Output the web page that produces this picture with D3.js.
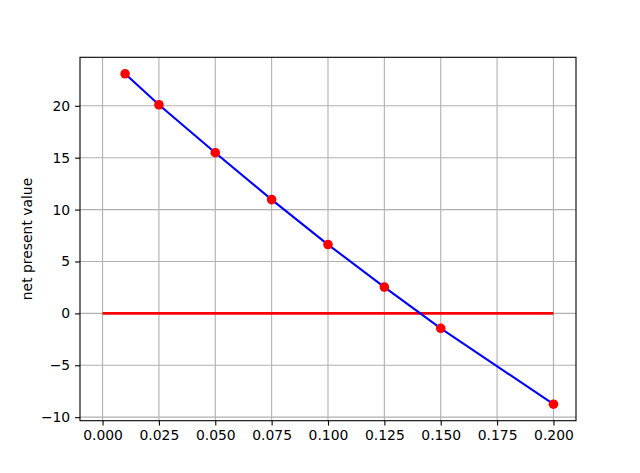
<!DOCTYPE html>
<html>
<head>
<meta charset="utf-8">
<script src="https://cdn.jsdelivr.net/npm/d3@7"></script>
<style>
  html, body { margin: 0; padding: 0; background: #fff; }
  svg { display: block; }
  text { font-family: "DejaVu Sans", sans-serif; }
</style>
</head>
<body>
<div id="chart"></div>
<script>
// Data
const rates = [0.01, 0.025, 0.05, 0.075, 0.1, 0.125, 0.15, 0.2];
const npv = [23.08, 20.1, 15.48, 10.96, 6.63, 2.53, -1.44, -8.75];
const zeroLineX = [0.0, 0.2];
const zeroLineY = [0, 0];
const xTicks = [0.0, 0.025, 0.05, 0.075, 0.1, 0.125, 0.15, 0.175, 0.2];
const yTicks = [-10, -5, 0, 5, 10, 15, 20];
const yLabel = "net present value";

(function () {
const W = 640, H = 473;
const mL = 80, mR = 576, mT = 57.3, mB = 420.7;

const svg = d3.select("#chart").append("svg").attr("width", W).attr("height", H);

const x = d3.scaleLinear().domain([-0.01, 0.21]).range([mL, mR]);
const yMin = -8.75, yMax = 23.08, yr = yMax - yMin;
const y = d3.scaleLinear().domain([yMin - 0.05 * yr, yMax + 0.05 * yr]).range([mB, mT]);

// grid
const g = svg.append("g");
g.selectAll("line.gx").data(xTicks).enter().append("line")
  .attr("x1", d => x(d)).attr("x2", d => x(d))
  .attr("y1", mT).attr("y2", mB)
  .attr("stroke", "#b0b0b0").attr("stroke-width", 1.1);
g.selectAll("line.gy").data(yTicks).enter().append("line")
  .attr("y1", d => y(d)).attr("y2", d => y(d))
  .attr("x1", mL).attr("x2", mR)
  .attr("stroke", "#b0b0b0").attr("stroke-width", 1.1);

// zero line
svg.append("path")
  .datum(zeroLineX.map((d, i) => [d, zeroLineY[i]]))
  .attr("d", d3.line().x(d => x(d[0])).y(d => y(d[1])))
  .attr("fill", "none").attr("stroke", "#ff0000").attr("stroke-width", 2.8);

// npv line
const pts = rates.map((d, i) => [d, npv[i]]);
svg.append("path")
  .datum(pts)
  .attr("d", d3.line().x(d => x(d[0])).y(d => y(d[1])))
  .attr("fill", "none").attr("stroke", "#0000ff").attr("stroke-width", 2.1);

svg.selectAll("circle.pt").data(pts).enter().append("circle")
  .attr("cx", d => x(d[0])).attr("cy", d => y(d[1]))
  .attr("r", 4.8).attr("fill", "#ff0000");

// axes
const xAxis = d3.axisBottom(x).tickValues(xTicks).tickFormat(d3.format(".3f")).tickSize(4.9).tickPadding(4.9);
const yAxis = d3.axisLeft(y).tickValues(yTicks).tickFormat(d => d < 0 ? "\u2212" + Math.abs(d) : d).tickSize(4.9).tickPadding(4.9);

const gx = svg.append("g").attr("transform", `translate(0,${mB})`).call(xAxis);
const gy = svg.append("g").attr("transform", `translate(${mL},0)`).call(yAxis);
[gx, gy].forEach(a => {
  a.select(".domain").remove();
  a.selectAll(".tick line").attr("stroke", "#000").attr("stroke-width", 1.1);
  a.selectAll(".tick text").attr("fill", "#000").style("font-size", "13.9px").style("font-family", "DejaVu Sans");
});

// frame
svg.append("rect").attr("x", mL).attr("y", mT)
  .attr("width", mR - mL).attr("height", mB - mT)
  .attr("fill", "none").attr("stroke", "#000").attr("stroke-width", 1.1);

// y label
svg.append("text")
  .attr("transform", `translate(32,${(mT + mB) / 2}) rotate(-90)`)
  .attr("text-anchor", "middle")
  .style("font-size", "13.9px")
  .text(yLabel);
})();
</script>
</body>
</html>
